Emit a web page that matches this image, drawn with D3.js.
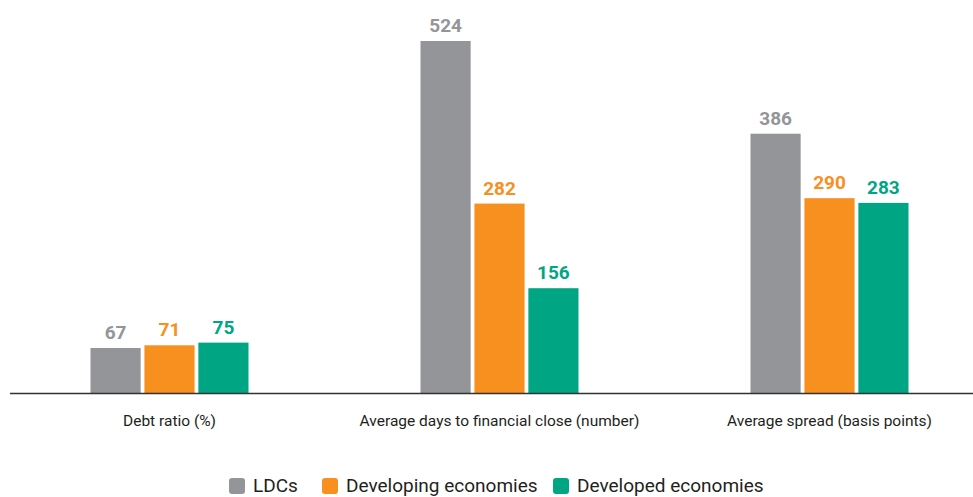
<!DOCTYPE html>
<html>
<head>
<meta charset="utf-8">
<script src="https://cdn.jsdelivr.net/npm/d3@7"></script>
<style>
body { margin: 0; background: #fff; }
svg { display: block; font-family: "Roboto", "Liberation Sans", sans-serif; }
</style>
</head>
<body>
<svg width="973" height="497"></svg>
<script>
const categories = ['Debt ratio (%)', 'Average days to financial close (number)', 'Average spread (basis points)'];
const seriesNames = ['LDCs', 'Developing economies', 'Developed economies'];
const ldcs = [67, 524, 386];
const developing = [71, 282, 290];
const developed = [75, 156, 283];
const colors = ['#939598', '#f7901e', '#00a683'];

const svg = d3.select('svg');
const series = [ldcs, developing, developed];

// one row per category, one value per series
const data = categories.map((c, i) => ({
	cat: c,
	values: series.map((s, j) => ({ name: seriesNames[j], value: s[i], k: j }))
}));

const x0 = d3.scalePoint().domain(categories).range([169.5, 829.5]);
const x1 = d3.scaleBand().domain(seriesNames).range([-79, 79]).paddingInner(0.07);
const y = d3.scaleLinear().domain([0, 524]).range([393, 41]);

const groups = svg.selectAll('g.group')
	.data(data).enter().append('g')
	.attr('class', 'group')
	.attr('transform', d => `translate(${x0(d.cat)},0)`);

groups.selectAll('rect')
	.data(d => d.values).enter().append('rect')
	.attr('x', d => x1(d.name))
	.attr('y', d => y(d.value))
	.attr('width', x1.bandwidth())
	.attr('height', d => y(0) - y(d.value))
	.attr('fill', d => colors[d.k]);

groups.selectAll('text.val')
	.data(d => d.values).enter().append('text')
	.attr('class', 'val')
	.attr('x', d => x1(d.name) + x1.bandwidth() / 2)
	.attr('y', d => y(d.value) - 9)
	.attr('text-anchor', 'middle')
	.attr('font-size', 19)
	.attr('font-weight', 'bold')
	.attr('fill', d => colors[d.k])
	.text(d => d.value);

// baseline
svg.append('line')
	.attr('x1', 10).attr('x2', 973)
	.attr('y1', y(0) + 0.5).attr('y2', y(0) + 0.5)
	.attr('stroke', '#333').attr('stroke-width', 1.5);

groups.append('text')
	.attr('x', 0).attr('y', 426)
	.attr('text-anchor', 'middle')
	.attr('font-size', 15.5)
	.attr('fill', '#231f20')
	.text(d => d.cat);

// legend
const legendX = [229, 322, 553];
const legend = svg.selectAll('g.legend')
	.data(seriesNames).enter().append('g')
	.attr('class', 'legend')
	.attr('transform', (d, i) => `translate(${legendX[i]},478)`);

legend.append('rect')
	.attr('width', 16).attr('height', 16)
	.attr('rx', 3)
	.attr('fill', (d, i) => colors[i]);

legend.append('text')
	.attr('x', 24).attr('y', 14)
	.attr('font-size', 19)
	.attr('fill', '#231f20')
	.text(d => d);
</script>
</body>
</html>
